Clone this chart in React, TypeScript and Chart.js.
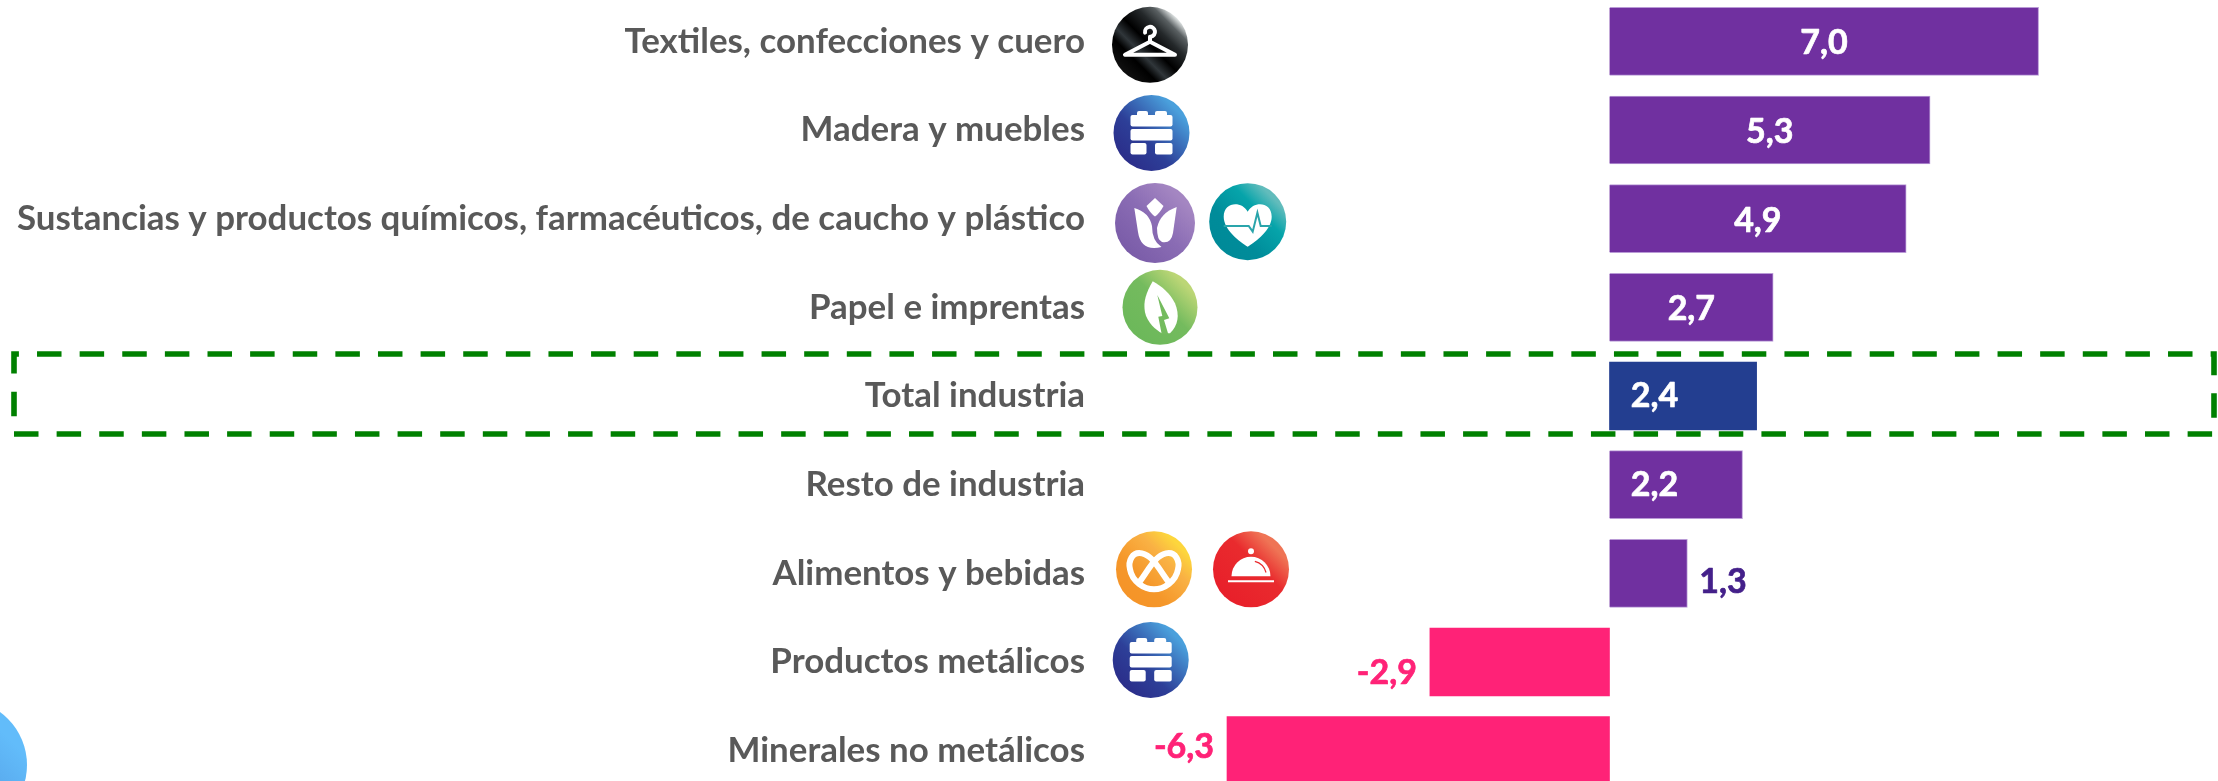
import React, { useEffect, useRef } from "react";
import { Chart, registerables } from "chart.js";

Chart.register(...registerables);

const categories = [
  "Textiles, confecciones y cuero",
  "Madera y muebles",
  "Sustancias y productos químicos, farmacéuticos, de caucho y plástico",
  "Papel e imprentas",
  "Total industria",
  "Resto de industria",
  "Alimentos y bebidas",
  "Productos metálicos",
  "Minerales no metálicos",
];
const barValues = [7.0, 5.23, 4.84, 2.67, 2.4, 2.17, 1.27, -2.93, -6.24];
const valueLabels = ["7,0", "5,3", "4,9", "2,7", "2,4", "2,2", "1,3", "-2,9", "-6,3"];
const highlightedCategory = "Total industria";

const PURPLE = "#7030A0";
const BLUE = "#233E90";
const PINK = "#FF2277";
const FONT = "Lato";
const CANVAS_SHIFT = 3;

const labelStyle = [
  { anchor: "center", color: "#fff", dy: 2 },
  { anchor: "center", color: "#fff", dy: 2 },
  { anchor: "center", color: "#fff", dy: 2 },
  { anchor: "center", color: "#fff", dy: 2 },
  { anchor: "base", color: "#fff", dy: 0 },
  { anchor: "base", color: "#fff", dy: 0 },
  { anchor: "out", color: "#44208A", dy: 9 },
  { anchor: "out", color: PINK, dy: 11 },
  { anchor: "out", color: PINK, dy: -4 },
];

type IconSpec = { kind: string; x: number; dy: number; r: number };
const categoryIcons: IconSpec[][] = [
  [{ kind: "hanger", x: 1150, dy: 3.5, r: 38 }],
  [{ kind: "bricks", x: 1151.5, dy: 3, r: 38 }],
  [
    { kind: "tulip", x: 1155, dy: 4.4, r: 40 },
    { kind: "heart", x: 1247.7, dy: 3, r: 38.5 },
  ],
  [{ kind: "leaf", x: 1160, dy: 0, r: 37.5 }],
  [],
  [],
  [
    { kind: "pretzel", x: 1154, dy: -4, r: 38 },
    { kind: "bell", x: 1251, dy: -4, r: 38 },
  ],
  [{ kind: "bricks", x: 1150.7, dy: -2, r: 38 }],
  [],
];

const gradients: Record<string, [number, string][]> = {
  hanger: [[0, "#e4e8e8"], [0.12, "#5a6062"], [0.28, "#24282a"], [0.5, "#000"], [0.66, "#30363a"], [0.78, "#000"], [1, "#101010"]],
  bricks: [[0.05, "#4aa0dc"], [0.35, "#3a6cb8"], [0.62, "#2d3f98"], [1, "#2b2e8a"]],
  tulip: [[0.05, "#a486c2"], [0.5, "#8a6cb4"], [1, "#7a5ca8"]],
  heart: [[0.05, "#62bcbc"], [0.3, "#06a4aa"], [0.7, "#008c9a"], [1, "#008a98"]],
  leaf: [[0.05, "#bcd676"], [0.45, "#74bb5e"], [1, "#6cb85a"]],
  pretzel: [[0.05, "#fdd63c"], [0.3, "#f9b144"], [0.7, "#f5972a"], [1, "#f59428"]],
  bell: [[0.08, "#ef7455"], [0.4, "#e92b2e"], [1, "#e81f2a"]],
};

function rr(ctx: CanvasRenderingContext2D, x0: number, y0: number, x1: number, y1: number, rad = 2) {
  ctx.beginPath();
  ctx.roundRect(x0, y0, x1 - x0, y1 - y0, rad);
  ctx.fill();
}

const glyphs: Record<string, (ctx: CanvasRenderingContext2D, bg: string) => void> = {
  hanger(ctx) {
    ctx.lineWidth = 4;
    ctx.lineJoin = "round";
    ctx.lineCap = "round";
    ctx.beginPath();
    ctx.moveTo(-25, 10);
    ctx.lineTo(25, 10);
    ctx.lineTo(0, -3);
    ctx.closePath();
    ctx.stroke();
    ctx.beginPath();
    ctx.arc(0, -13, 5, Math.PI * 0.95, Math.PI * 0.5);
    ctx.lineTo(0, -3);
    ctx.stroke();
  },
  bricks(ctx) {
    rr(ctx, -21, -18, 21, -6.5);
    rr(ctx, -14.5, -22, -3.5, -15);
    rr(ctx, 3.5, -22, 15.5, -15);
    rr(ctx, -21, -4, 21, 7.5);
    rr(ctx, -21, 10, -5, 21.5);
    rr(ctx, 3.5, 10, 21, 21.5);
  },
  tulip(ctx) {
    ctx.beginPath();
    ctx.moveTo(0, -25);
    ctx.lineTo(8.5, -17);
    ctx.quadraticCurveTo(5, -10, 0, -6.5);
    ctx.quadraticCurveTo(-5, -10, -8.5, -17);
    ctx.closePath();
    ctx.fill();
    ctx.beginPath();
    ctx.moveTo(-20.7, -15);
    ctx.quadraticCurveTo(-6, -11, -3, 3);
    ctx.quadraticCurveTo(-3, 18, 6.5, 24);
    ctx.quadraticCurveTo(-14, 29, -17, 9);
    ctx.closePath();
    ctx.fill();
    ctx.beginPath();
    ctx.moveTo(21.7, -16);
    ctx.lineTo(18, 10);
    ctx.quadraticCurveTo(16, 21, 7, 19);
    ctx.quadraticCurveTo(2, 17, 2, 5);
    ctx.quadraticCurveTo(5, -10, 21.7, -16);
    ctx.fill();
  },
  heart(ctx) {
    ctx.beginPath();
    ctx.moveTo(0, -10);
    ctx.bezierCurveTo(-6, -21, -24, -20, -24, -5);
    ctx.bezierCurveTo(-24, 8, -8, 20, 0, 25);
    ctx.bezierCurveTo(8, 20, 24, 8, 24, -5);
    ctx.bezierCurveTo(24, -20, 6, -21, 0, -10);
    ctx.fill();
    ctx.strokeStyle = "#2aa5ab";
    ctx.lineWidth = 2;
    ctx.beginPath();
    ctx.moveTo(-24, 4.3);
    ctx.lineTo(1, 4.3);
    ctx.lineTo(5, 10);
    ctx.lineTo(9.7, -9);
    ctx.lineTo(13, 4.3);
    ctx.lineTo(24, 4.3);
    ctx.stroke();
  },
  leaf(ctx, bg) {
    ctx.beginPath();
    ctx.moveTo(-7.3, -26);
    ctx.bezierCurveTo(-14, -14, -17, -6, -15, 5);
    ctx.bezierCurveTo(-13, 15, -4, 23, 2, 26);
    ctx.lineTo(10, 26);
    ctx.bezierCurveTo(18, 18, 20, 8, 15, -4);
    ctx.bezierCurveTo(10, -14, 2, -21, -7.3, -26);
    ctx.fill();
    ctx.fillStyle = bg;
    ctx.beginPath();
    ctx.moveTo(-2.7, -12.3);
    ctx.lineTo(9.3, 11);
    ctx.lineTo(4, 12.7);
    ctx.lineTo(8.3, 27);
    ctx.lineTo(1.7, 27);
    ctx.lineTo(-1.7, 9.3);
    ctx.lineTo(2.3, 8.7);
    ctx.closePath();
    ctx.fill();
  },
  pretzel(ctx) {
    ctx.lineWidth = 6;
    ctx.lineCap = "round";
    ctx.beginPath();
    ctx.moveTo(-14, 12);
    ctx.bezierCurveTo(-4, -2, 2, -14, 12, -16);
    ctx.bezierCurveTo(22, -18, 26, -8, 24, 0);
    ctx.bezierCurveTo(22, 12, 10, 20, 0, 20);
    ctx.bezierCurveTo(-10, 20, -22, 12, -24, 0);
    ctx.bezierCurveTo(-26, -8, -22, -18, -12, -16);
    ctx.bezierCurveTo(-2, -14, 4, -2, 14, 12);
    ctx.stroke();
  },
  bell(ctx, bg) {
    ctx.beginPath();
    ctx.arc(0, -18, 3, 0, Math.PI * 2);
    ctx.fill();
    ctx.beginPath();
    ctx.arc(0, 7, 19.5, Math.PI, 0);
    ctx.closePath();
    ctx.fill();
    rr(ctx, -23, 11, 23, 13, 0);
    ctx.strokeStyle = bg;
    ctx.lineWidth = 1.2;
    ctx.beginPath();
    ctx.arc(0, 7, 15.5, -Math.PI * 0.42, -Math.PI * 0.08);
    ctx.stroke();
  },
};

function gradientDisc(ctx: CanvasRenderingContext2D, x: number, y: number, r: number, stops: [number, string][]) {
  const d = r * Math.SQRT1_2;
  const g = ctx.createLinearGradient(x + d, y - d, x - d, y + d);
  stops.forEach(([o, c]) => g.addColorStop(o, c));
  ctx.fillStyle = g;
  ctx.beginPath();
  ctx.arc(x, y, r, 0, Math.PI * 2);
  ctx.fill();
}

const decorPlugin = {
  id: "decor",
  afterDatasetsDraw(chart: any) {
    const { ctx, scales } = chart;
    const yScale = scales.y;
    const meta = chart.getDatasetMeta(0);

    categoryIcons.forEach((list, i) => {
      const cy = yScale.getPixelForValue(i);
      list.forEach((icon) => {
        const x = icon.x;
        const y = cy + icon.dy;
        const stops = gradients[icon.kind];
        ctx.save();
        gradientDisc(ctx, x, y, icon.r, stops);
        ctx.translate(x, y);
        ctx.fillStyle = "#fff";
        ctx.strokeStyle = "#fff";
        const mid = stops[Math.floor(stops.length / 2)][1];
        glyphs[icon.kind](ctx, mid);
        ctx.restore();
      });
    });

    ctx.save();
    gradientDisc(ctx, -38.5, 765 + CANVAS_SHIFT, 65.5, [[0.1, "#62bcfa"], [0.55, "#56a4ea"], [0.9, "#4886d0"]]);
    ctx.restore();

    ctx.save();
    ctx.font = `bold 34px ${FONT}`;
    ctx.textBaseline = "middle";
    ctx.lineWidth = 0.7;
    ctx.lineJoin = "round";
    valueLabels.forEach((text, i) => {
      const el = meta.data[i];
      const st = labelStyle[i];
      ctx.fillStyle = st.color;
      ctx.strokeStyle = st.color;
      let x = el.x;
      if (st.anchor === "center") {
        ctx.textAlign = "center";
        x = (el.x + el.base) / 2;
      } else if (st.anchor === "base") {
        ctx.textAlign = "center";
        x = el.base + 45;
      } else if (barValues[i] >= 0) {
        ctx.textAlign = "left";
        x = el.x + 12;
      } else {
        ctx.textAlign = "right";
        x = el.x - 13;
      }
      ctx.fillText(text, x, el.y + st.dy);
      ctx.strokeText(text, x, el.y + st.dy);
    });
    ctx.restore();

    const idx = categories.indexOf(highlightedCategory);
    const cy = yScale.getPixelForValue(idx);
    const top = cy - 42;
    const bottom = cy + 38;
    const left = 14;
    const right = 2214;
    ctx.save();
    ctx.strokeStyle = "#008000";
    ctx.lineWidth = 5.6;
    ctx.lineJoin = "miter";
    ctx.setLineDash([24.5, 18.12]);
    ctx.beginPath();
    ctx.moveTo(left, bottom);
    ctx.lineTo(right, bottom);
    ctx.lineTo(right, top);
    ctx.lineTo(left, top);
    ctx.closePath();
    ctx.stroke();
    ctx.restore();
  },
};

export default function App() {
  const ref = useRef<HTMLCanvasElement | null>(null);
  useEffect(() => {
    if (!ref.current) return;
    const chart = new Chart(ref.current, {
      type: "bar",
      data: {
        labels: categories,
        datasets: [
          {
            data: barValues,
            barThickness: 68,
            backgroundColor: categories.map((c, i) =>
              c === highlightedCategory ? BLUE : barValues[i] < 0 ? PINK : PURPLE
            ),
            borderWidth: categories.map((c, i) => (c === highlightedCategory || barValues[i] < 0 ? 0 : 1)),
            borderColor: "#B99AD6",
          },
        ],
      },
      options: {
        indexAxis: "y",
        animation: false,
        responsive: false,
        maintainAspectRatio: false,
        layout: { padding: 0 },
        plugins: { legend: { display: false }, tooltip: { enabled: false } },
        scales: {
          x: {
            type: "linear",
            min: -8.475,
            max: 9.927,
            display: false,
            grid: { display: false },
          },
          y: {
            type: "category",
            grid: { display: false, drawTicks: false },
            border: { display: false },
            afterFit: (s: any) => {
              s.width = 1090;
              s.paddingTop = 0;
              s.paddingBottom = 0;
            },
            ticks: {
              autoSkip: false,
              padding: 5,
              color: "#595959",
              font: { family: FONT, weight: "bold", size: 34.9 },
            },
          },
        },
      },
      plugins: [decorPlugin],
    } as any);
    return () => chart.destroy();
  }, []);
  return (
    <div style={{ position: "fixed", left: 0, top: 0, width: 2218, height: 781, overflow: "hidden", background: "#fff" }}>
      <canvas
        ref={ref}
        width={2218}
        height={798}
        style={{ display: "block", position: "absolute", left: 0, top: -CANVAS_SHIFT }}
      />
    </div>
  );
}
